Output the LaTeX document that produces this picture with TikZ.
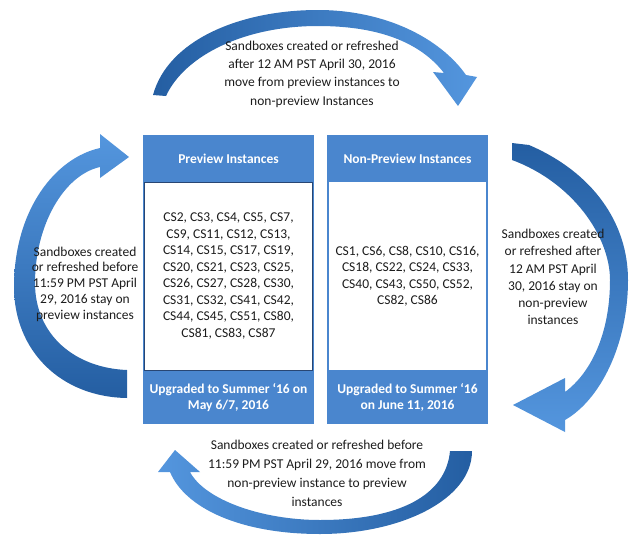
\documentclass[tikz,border=0pt]{standalone}
\usepackage{fontspec}
\setmainfont{Carlito}
\usepackage{tikz}

\definecolor{boxblue}{RGB}{74,134,206}
\definecolor{boxedge}{RGB}{40,70,115}
\definecolor{arrlight}{RGB}{84,150,222}
\definecolor{arrdark}{RGB}{36,94,162}
\definecolor{txtcol}{RGB}{28,28,28}

\begin{document}
\begin{tikzpicture}[x=1pt,y=-1pt,
        headbox/.style={fill=boxblue,text=white,inner sep=0pt,
            font=\fontsize{13.5}{16}\selectfont\bfseries,align=center},
        bodybox/.style={fill=white,text=txtcol,inner sep=0pt,
            font=\fontsize{13.5}{16.5}\selectfont,align=center},
        lbl/.style={text=txtcol,inner sep=0pt,align=center}
        ]
        \useasboundingbox (0,0) rectangle (640,546);

        % The arrows
        \shade[left color=arrdark,right color=arrlight]
            (153,95) .. controls (168,40) and (240,10) .. (318,10)
            .. controls (385,10) and (440,38) .. (466,75)
            -- (477,77) -- (458,106) -- (433,72) -- (444,73)
            .. controls (420,42) and (378,26) .. (318,26)
            .. controls (245,26) and (185,55) .. (166,96) -- cycle;
        \shade[top color=arrlight,bottom color=arrdark]
            (127,398) .. controls (60,397) and (14,350) .. (14,287)
            .. controls (14,210) and (55,158) .. (100,148)
            -- (100,134) -- (129,157) -- (100,178) -- (100,167)
            .. controls (64,175) and (35,225) .. (35,283)
            .. controls (35,335) and (75,368) .. (127,370) -- cycle;
        \shade[top color=arrdark,bottom color=arrlight]
            (512,143) -- (529,145) .. controls (592,172) and (628,222) .. (628,280)
            .. controls (628,345) and (600,400) .. (565,420)
            -- (565,432) -- (513,405) -- (565,378) -- (565,392)
            .. controls (592,372) and (610,332) .. (610,280)
            .. controls (610,236) and (572,182) .. (512,160) -- cycle;
        \shade[left color=arrlight,right color=arrdark]
            (472,451) .. controls (472,500) and (400,534) .. (320,534)
            .. controls (240,534) and (185,508) .. (170,472)
            -- (158,472) -- (175,450) -- (200,472) -- (190,472)
            .. controls (205,500) and (262,520) .. (320,520)
            .. controls (400,520) and (446,495) .. (450,451) -- cycle;

        % The boxes
        \fill[boxblue] (143,135) rectangle (314,424);
        \fill[boxblue] (327,135) rectangle (488,423);
        \node[headbox,minimum width=171pt,minimum height=47pt] (prevhead) at (228.5,158.5) {Preview Instances};
        \node[bodybox,draw=boxedge,line width=0.7pt,minimum width=168pt,minimum height=188pt] (prevbody) at (228.5,276)
            {CS2, CS3, CS4, CS5, CS7,\\ CS9, CS11, CS12, CS13,\\ CS14, CS15, CS17, CS19,\\ CS20, CS21, CS23, CS25,\\
             CS26, CS27, CS28, CS30,\\ CS31, CS32, CS41, CS42,\\ CS44, CS45, CS51, CS80,\\ CS81, CS83, CS87};
        \node[headbox,minimum width=171pt,minimum height=53pt] (prevfoot) at (228.5,397.5) {Upgraded to Summer ‘16 on\\ May 6/7, 2016};
        \node[headbox,minimum width=161pt,minimum height=47pt] (nonhead) at (407.5,158.5) {Non-Preview Instances};
        \node[bodybox,minimum width=157pt,minimum height=188pt] (nonbody) at (407.5,276)
            {CS1, CS6, CS8, CS10, CS16,\\ CS18, CS22, CS24, CS33,\\ CS40, CS43, CS50, CS52,\\ CS82, CS86};
        \node[headbox,minimum width=161pt,minimum height=53pt] (nonfoot) at (407.5,397) {Upgraded to Summer ‘16\\ on June 11, 2016};

        % The labels
        \node[lbl,font=\fontsize{13.5}{18.3}\selectfont] (toplbl) at (312,74)
            {Sandboxes created or refreshed\\ after 12 AM PST April 30, 2016\\ move from preview instances to\\ non-preview Instances};
        \node[lbl,font=\fontsize{13.5}{15.8}\selectfont] (leftlbl) at (85,284)
            {Sandboxes created\\ or refreshed before\\ 11:59 PM PST April\\ 29, 2016 stay on\\ preview instances};
        \node[lbl,font=\fontsize{13.5}{17.2}\selectfont] (rightlbl) at (553,277)
            {Sandboxes created\\ or refreshed after\\ 12 AM PST April\\ 30, 2016 stay on\\ non-preview\\ instances};
        \node[lbl,font=\fontsize{13.5}{19}\selectfont] (botlbl) at (317,473)
            {Sandboxes created or refreshed before\\ 11:59 PM PST April 29, 2016 move from\\ non-preview instance to preview\\ instances};
\end{tikzpicture}
\end{document}
